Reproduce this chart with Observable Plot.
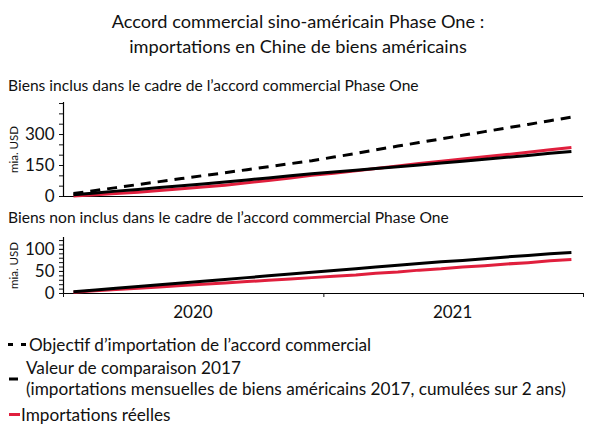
<!DOCTYPE html>
<html>
<head>
<meta charset="utf-8">
<script src="https://cdn.jsdelivr.net/npm/d3@7"></script>
<script src="https://cdn.jsdelivr.net/npm/@observablehq/plot@0.6"></script>
<style>
  html, body { margin: 0; padding: 0; background: #fff; }
  body { width: 596px; height: 424px; position: relative; overflow: hidden; font-family: Lato, "Open Sans", sans-serif; color: #111; }
  .abs { position: absolute; }
  #title { left: 0; width: 596px; top: 9px; text-align: center; font-size: 18.2px; line-height: 25px; }
  .sub { left: 8px; font-size: 15.6px; line-height: 18px; white-space: nowrap; }
  .leg { font-size: 17.2px; line-height: 21px; white-space: nowrap; }
</style>
</head>
<body>
<div id="title" class="abs">Accord commercial sino-américain Phase One :<br>importations en Chine de biens américains</div>
<div class="abs sub" style="top:76px">Biens inclus dans le cadre de l’accord commercial Phase One</div>
<div id="top" class="abs" style="left:0;top:95px"></div>
<div class="abs sub" style="top:208px">Biens non inclus dans le cadre de l’accord commercial Phase One</div>
<div id="bottom" class="abs" style="left:0;top:230px"></div>
<div id="legend"></div>
<script>
// ---- data ----
const months = ["2020-01","2020-02","2020-03","2020-04","2020-05","2020-06","2020-07","2020-08","2020-09","2020-10","2020-11","2020-12",
                "2021-01","2021-02","2021-03","2021-04","2021-05","2021-06","2021-07","2021-08","2021-09","2021-10","2021-11","2021-12"];
// Goods covered by the Phase One deal (bn USD, cumulative)
const incTarget = [14,29,43,58,72,87,101,115,130,144,159,173,191,208,226,244,261,279,296,314,332,349,367,384];
const incBase   = [9,17,26,34,43,52,61,70,80,90,100,110,119,127,136,144,153,162,171,180,190,199,209,218];
const incActual = [3,8,14,21,29,37,46,55,66,78,90,103,113,124,136,148,160,171,182,192,203,214,226,237];
// Goods not covered (bn USD, cumulative)
const nonBase   = [4,8,12,16,20,24,28,32,36,40,44,48,52,56,60,64,68,72,75,79,83,86,90,93];
const nonActual = [3,6,9,12,15,18,21,24,27,30,33,36,39,42,46,49,53,56,60,63,67,70,74,77];
const years = ["2020","2021"];
const yearBounds = ["2020-01-01","2021-01-01","2022-01-01"];
const seriesNames = ["Objectif d’importation de l’accord commercial",
                     "Valeur de comparaison 2017\n(importations mensuelles de biens américains 2017, cumulées sur 2 ans)",
                     "Importations réelles"];
const yLabel = "mia. USD";

// ---- helpers ----
const mid = m => new Date(m + "-15T00:00:00Z");
const toRows = arr => arr.map((v, i) => ({date: mid(months[i]), value: v}));
const xDomain = [new Date(yearBounds[0] + "T00:00:00Z"), new Date(yearBounds[2] + "T00:00:00Z")];
const RED = "#e01f3d";
const W = 596, ML = 63, MR = 13;
const font = "Lato, 'Open Sans', sans-serif";

function panel({height, mt, mb, yMax, minorStep, majorTicks, series, showX}) {
  const marks = [
    Plot.axisY({ticks: d3.range(0, yMax + 1e-9, minorStep), tickSize: 4, tickFormat: () => "", label: null}),
    Plot.axisY({ticks: majorTicks, tickSize: 4, tickPadding: 5, label: null}),
    Plot.text([yLabel], {frameAnchor: "left", dx: -49, rotate: -90, text: d => d, fontSize: 11.5,
      textAnchor: "middle", lineAnchor: "middle", fill: "#111"}),
    Plot.ruleX([xDomain[0]], {stroke: "#000", strokeWidth: 1.2}),
    Plot.ruleY([0], {stroke: "#000", strokeWidth: 1.2}),
  ];
  for (const s of series) {
    marks.push(Plot.line(toRows(s.data), {x: "date", y: "value", stroke: s.stroke, strokeWidth: 3,
      strokeDasharray: s.dash || null, strokeLinecap: "butt", curve: "linear"}));
  }
  if (showX) {
    marks.push(Plot.axisX({ticks: yearBounds.map(d => new Date(d + "T00:00:00Z")), tickSize: 4, tickFormat: () => "", label: null}));
    marks.push(Plot.text(years, {x: d => new Date(d + "-07-01T00:00:00Z"), text: d => d,
      frameAnchor: "bottom", dy: 24, fontSize: 17, fill: "#111"}));
  } else {
    marks.push(Plot.axisX({ticks: [], label: null}));
  }
  return Plot.plot({
    width: W, height, marginLeft: ML, marginRight: MR, marginTop: mt, marginBottom: mb,
    style: {fontFamily: font, fontSize: "17px", color: "#111", background: "transparent", overflow: "visible"},
    x: {type: "utc", domain: xDomain},
    y: {domain: [0, yMax]},
    marks
  });
}

document.getElementById("top").append(panel({
  height: 105, mt: 7, mb: 4, yMax: 455, minorStep: 50, majorTicks: [0,150,300],
  series: [
    {data: incActual, stroke: RED},
    {data: incBase, stroke: "#000"},
    {data: incTarget, stroke: "#000", dash: "10,7"}
  ],
  showX: false
}));

document.getElementById("bottom").append(panel({
  height: 93, mt: 7, mb: 30, yMax: 127, minorStep: 10, majorTicks: [0,50,100],
  series: [
    {data: nonActual, stroke: RED},
    {data: nonBase, stroke: "#000"}
  ],
  showX: true
}));

// ---- legend ----
const legend = document.getElementById("legend");
const items = [
  {top: 334, swatch: `<svg width="30" height="21"><line x1="8" x2="28" y1="10.5" y2="10.5" stroke="#000" stroke-width="3" stroke-dasharray="5,8"/></svg>`, sx: 0, tx: 29, text: seriesNames[0]},
  {top: 357, swatch: `<svg width="12" height="42"><line x1="0" x2="9" y1="22" y2="22" stroke="#000" stroke-width="3"/></svg>`, sx: 9, tx: 26, text: seriesNames[1]},
  {top: 404, swatch: `<svg width="14" height="21"><line x1="0" x2="11" y1="10.5" y2="10.5" stroke="${RED}" stroke-width="3"/></svg>`, sx: 9, tx: 21, text: seriesNames[2]},
];
for (const it of items) {
  const sw = document.createElement("div");
  sw.className = "abs";
  sw.style.left = it.sx + "px"; sw.style.top = it.top + "px";
  sw.innerHTML = it.swatch;
  legend.append(sw);
  const t = document.createElement("div");
  t.className = "abs leg";
  t.style.left = it.tx + "px"; t.style.top = it.top + "px";
  t.innerHTML = it.text.replace("\n", "<br>");
  legend.append(t);
}
</script>
</body>
</html>
